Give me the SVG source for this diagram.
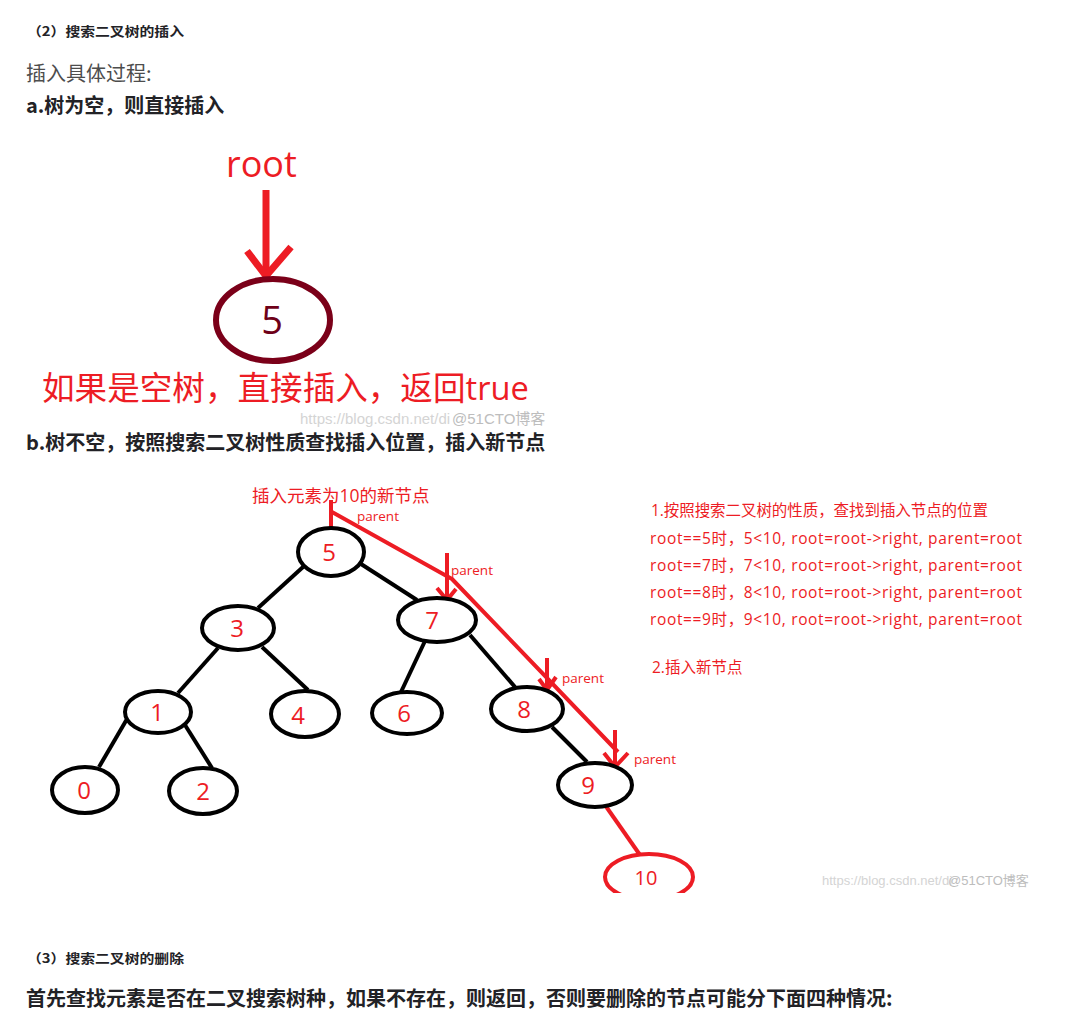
<svg xmlns="http://www.w3.org/2000/svg" width="1075" height="1015" viewBox="0 0 1075 1015">
<defs>
<style>
.h{font-family:"Noto Sans CJK SC","Noto Sans",sans-serif;font-weight:bold;fill:#222226}
.p{font-family:"Noto Sans CJK SC","Noto Sans",sans-serif;fill:#4d4d4d}
.r{font-family:"Open Sans","Noto Sans CJK SC",sans-serif;fill:#ed1c24}
.wm{font-family:"Liberation Sans","Noto Sans CJK SC",sans-serif;fill:#d4d4d4}
.wm2{font-family:"Liberation Sans","Noto Sans CJK SC",sans-serif;fill:#bdbdbd}
.node ellipse{fill:#fff;stroke:#000;stroke-width:4}
.node text{font-family:"Open Sans","Noto Sans",sans-serif;font-size:24px;fill:#ed1c24;text-anchor:middle}
.edge{stroke:#000;stroke-width:4;fill:none}
.red{stroke:#ed1c24;stroke-width:4;fill:none;stroke-linecap:butt}
.par{font-family:"Open Sans","Noto Sans",sans-serif;font-size:13.5px;fill:#ed1c24}
</style>
<clipPath id="clip10"><rect x="590" y="840" width="120" height="53"/></clipPath>
</defs>
<rect width="1075" height="1015" fill="#fff"/>

<!-- headings -->
<text class="h" x="27" y="36" font-size="13" textLength="157" lengthAdjust="spacingAndGlyphs">（2）搜索二叉树的插入</text>
<text class="p" x="26" y="81" font-size="20">插入具体过程:</text>
<text class="h" x="26" y="113" font-size="20">a.树为空，则直接插入</text>

<!-- part a -->
<g id="root-label"><text class="r" x="226" y="177" font-size="36">root</text></g>
<g id="root-arrow">
<line x1="266" y1="190" x2="266" y2="276" stroke="#ed1c24" stroke-width="7"/>
<polyline points="247,251 266,276 291,247" fill="none" stroke="#ed1c24" stroke-width="7" stroke-linejoin="miter"/>
</g>
<g id="nodeA5">
<ellipse cx="273" cy="320" rx="57" ry="41" fill="#fff" stroke="#7b0019" stroke-width="6"/>
<text x="272" y="334" font-family="Open Sans,Noto Sans,sans-serif" font-size="38" fill="#6e0018" text-anchor="middle">5</text>
</g>
<text class="wm" x="300" y="424" font-size="15">https://blog.csdn.net/di</text>
<text class="wm2" x="452" y="424" font-size="15">@51CTO博客</text>
<text class="r" x="42" y="400" font-size="32.6">如果是空树，直接插入，返回true</text>

<text class="h" x="26" y="450" font-size="20">b.树不空，按照搜索二叉树性质查找插入位置，插入新节点</text>

<!-- part b labels -->
<text class="r" x="252" y="502" font-size="17.5">插入元素为10的新节点</text>

<g id="notes">
<text class="r" x="651" y="516" font-size="15.5" textLength="337">1.按照搜索二叉树的性质，查找到插入节点的位置</text>
<text class="r" x="650" y="544" font-size="15.5" textLength="372">root==5时，5&lt;10, root=root-&gt;right, parent=root</text>
<text class="r" x="650" y="571" font-size="15.5" textLength="372">root==7时，7&lt;10, root=root-&gt;right, parent=root</text>
<text class="r" x="650" y="598" font-size="15.5" textLength="372">root==8时，8&lt;10, root=root-&gt;right, parent=root</text>
<text class="r" x="650" y="625" font-size="15.5" textLength="372">root==9时，9&lt;10, root=root-&gt;right, parent=root</text>
<text class="r" x="652" y="673" font-size="15.5">2.插入新节点</text>
</g>

<!-- connectors -->
<g id="connectors">
<line class="edge" x1="303" y1="567" x2="258" y2="608"/>
<line class="edge" x1="361" y1="564" x2="417" y2="600"/>
<line class="edge" x1="218" y1="648" x2="178" y2="693"/>
<line class="edge" x1="262" y1="647" x2="308" y2="690"/>
<line class="edge" x1="425" y1="641" x2="401" y2="692"/>
<line class="edge" x1="470" y1="635" x2="515" y2="687"/>
<line class="edge" x1="127" y1="719" x2="99" y2="767"/>
<line class="edge" x1="185" y1="725" x2="212" y2="768"/>
<line class="edge" x1="552" y1="727" x2="587" y2="762"/>
<line class="red" x1="605" y1="805" x2="640" y2="855"/>
<!-- insertion path -->
<line class="red" x1="331" y1="500" x2="331" y2="529"/>
<polyline class="red" points="332,512 452,579 618,752" stroke-linejoin="round"/>
<line class="red" x1="447" y1="553" x2="447" y2="599"/>
<polyline class="red" points="437,588 447,600 456,589"/>
<line class="red" x1="547" y1="658" x2="547" y2="689"/>
<polyline class="red" points="539,679 547,690 556,677"/>
<line class="red" x1="615" y1="730" x2="615" y2="766"/>
<polyline class="red" points="604,753 615,767 628,753"/>
</g>

<text class="par" x="357" y="521">parent</text>
<text class="par" x="451" y="575">parent</text>
<text class="par" x="562" y="683">parent</text>
<text class="par" x="634" y="764">parent</text>

<!-- nodes -->
<g id="n5" class="node"><ellipse cx="331" cy="552" rx="33" ry="24"/><text x="329" y="561">5</text></g>
<g id="n3" class="node"><ellipse cx="238" cy="628" rx="36" ry="22"/><text x="237" y="637">3</text></g>
<g id="n7" class="node"><ellipse cx="437" cy="620" rx="39" ry="22"/><text x="432" y="629">7</text></g>
<g id="n1" class="node"><ellipse cx="158" cy="712" rx="33" ry="21"/><text x="157" y="721">1</text></g>
<g id="n4" class="node"><ellipse cx="305" cy="714" rx="34" ry="23"/><text x="298" y="724">4</text></g>
<g id="n6" class="node"><ellipse cx="407" cy="713" rx="35" ry="21"/><text x="404" y="722">6</text></g>
<g id="n8" class="node"><ellipse cx="527" cy="709" rx="36" ry="22"/><text x="524" y="718">8</text></g>
<g id="n0" class="node"><ellipse cx="85" cy="790" rx="33" ry="23"/><text x="84" y="799">0</text></g>
<g id="n2" class="node"><ellipse cx="203" cy="791" rx="34" ry="23"/><text x="203" y="800">2</text></g>
<g id="n9" class="node"><ellipse cx="595" cy="785" rx="37" ry="22"/><text x="588" y="794">9</text></g>
<g id="n10"><ellipse cx="649" cy="877" rx="44" ry="23" fill="#fff" stroke="#ed1c24" stroke-width="4" clip-path="url(#clip10)"/><text x="646" y="885" font-family="Open Sans,Noto Sans,sans-serif" font-size="20" fill="#ed1c24" text-anchor="middle">10</text></g>

<text class="wm" x="822" y="885" font-size="13">https://blog.csdn.net/di</text>
<text class="wm2" x="948" y="885" font-size="13">@51CTO博客</text>

<!-- section 3 -->
<text class="h" x="27" y="963" font-size="13" textLength="157" lengthAdjust="spacingAndGlyphs">（3）搜索二叉树的删除</text>
<text class="h" x="26" y="1006" font-size="20">首先查找元素是否在二叉搜索树种，如果不存在，则返回，否则要删除的节点可能分下面四种情况:</text>
</svg>
